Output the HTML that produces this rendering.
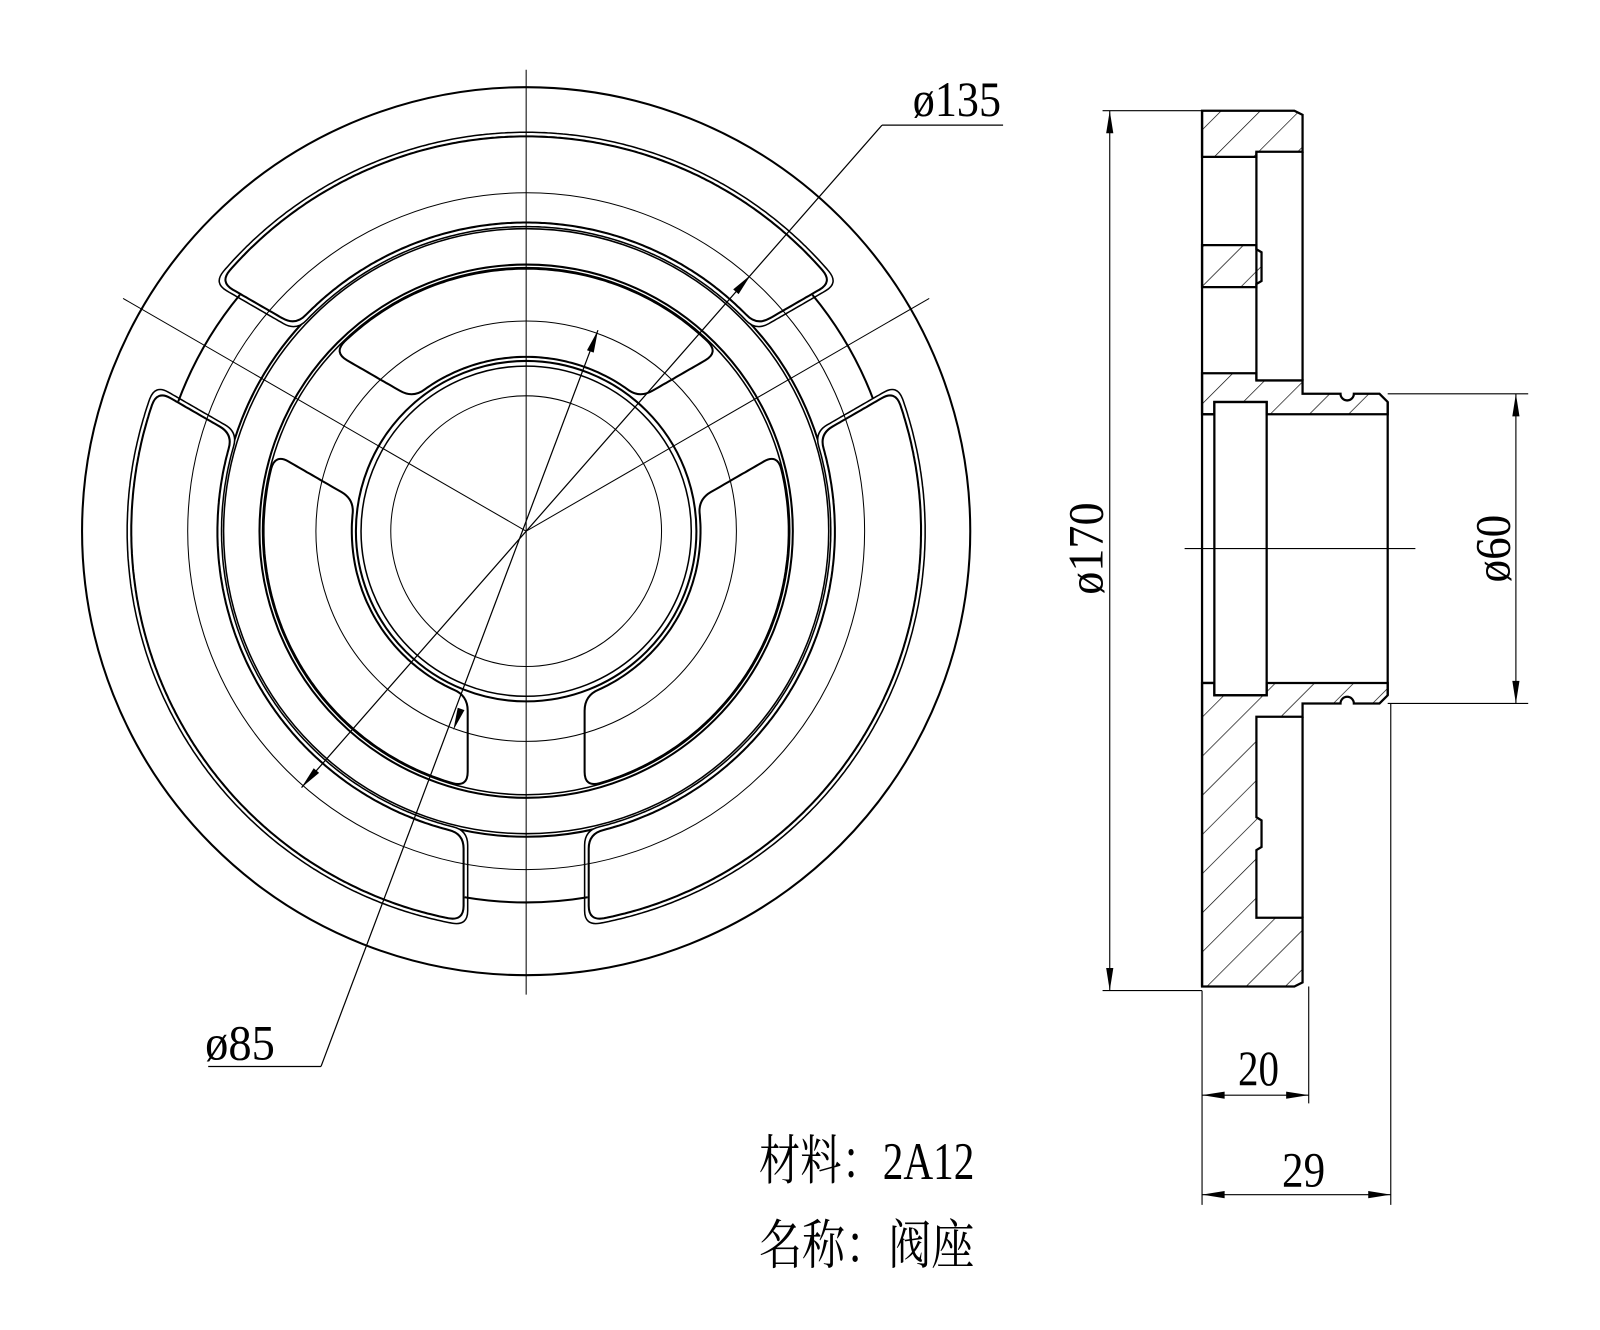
<!DOCTYPE html>
<html><head><meta charset="utf-8"><style>
html,body{margin:0;padding:0;background:#fff;}
svg{display:block}
text{font-family:"Liberation Serif","Noto Serif CJK SC",serif;fill:#000}
</style></head><body>
<svg id="s" width="1600" height="1330" viewBox="0 0 1560 1297" preserveAspectRatio="none" xmlns="http://www.w3.org/2000/svg">
<defs>
<pattern id="h" patternUnits="userSpaceOnUse" width="27" height="27" patternTransform="rotate(45)">
<line x1="0" y1="0" x2="0" y2="27" stroke="#000" stroke-width="1.3"/>
</pattern>
</defs>
<g id="front" fill="none" stroke="#000">
<circle cx="513" cy="518" r="433" stroke-width="2"/>
<circle cx="513" cy="518" r="298" stroke-width="2"/>
<circle cx="513" cy="518" r="295" stroke-width="1.5"/>
<circle cx="513" cy="518" r="260" stroke-width="2"/>
<circle cx="513" cy="518" r="257" stroke-width="1.5"/>
<circle cx="513" cy="518" r="166" stroke-width="2"/>
<circle cx="513" cy="518" r="161" stroke-width="1.5"/>
<circle cx="513" cy="518" r="132" stroke-width="1"/>
<line x1="860" y1="122" x2="978" y2="122" stroke-width="1.2"/>
<line x1="313" y1="1040" x2="203" y2="1040" stroke-width="1.2"/>
</g>
<text x="890" y="113" font-size="48" textLength="86" lengthAdjust="spacingAndGlyphs">ø135</text>
<text x="200" y="1033" font-size="48" textLength="68" lengthAdjust="spacingAndGlyphs">ø85</text>

<g fill="url(#h)" stroke="#000" stroke-width="2.2" stroke-linejoin="miter">
<path d="M1172,108 L1262,108 L1270,112 L1270,148 L1225,148 L1225,153 L1172,153 Z"/>
<path d="M1172,239 L1225,239 L1225,243 L1230,246 L1230,274 L1225,277 L1225,280 L1172,280 Z"/>
<path d="M1172,364 L1225,364 L1225,371 L1270,371 L1270,384 L1307,384 A6.5,6.5 0 0 0 1320,384 L1345,384 L1353,392 L1353,404 L1235,404 L1235,392 L1184,392 L1184,404 L1172,404 Z"/>
<path d="M1172,666 L1184,666 L1184,678 L1235,678 L1235,666 L1353,666 L1353,678 L1345,686 L1320,686 A6.5,6.5 0 0 0 1307,686 L1270,686 L1270,699 L1225,699 L1225,797 L1230,800 L1230,826 L1225,829 L1225,895 L1270,895 L1270,958 L1262,962 L1172,962 Z"/>
</g>
<g fill="none" stroke="#000" stroke-width="2.2">
<line x1="1172" y1="108" x2="1172" y2="962"/>
<line x1="1225" y1="148" x2="1225" y2="371"/>
<line x1="1270" y1="148" x2="1270" y2="371"/>
<rect x="1184" y="392" width="51" height="286"/>
<line x1="1172" y1="404" x2="1184" y2="404"/>
<line x1="1172" y1="666" x2="1184" y2="666"/>
<line x1="1353" y1="392" x2="1353" y2="678"/>
<line x1="1270" y1="699" x2="1270" y2="895"/>
</g>
<g fill="none" stroke="#000" stroke-width="1.1">
<line x1="1155" y1="535" x2="1380" y2="535"/>
<line x1="1075" y1="108" x2="1172" y2="108"/>
<line x1="1075" y1="966" x2="1172" y2="966"/>
<line x1="1082" y1="108" x2="1082" y2="966"/>
<line x1="1353" y1="384" x2="1490" y2="384"/>
<line x1="1353" y1="686" x2="1490" y2="686"/>
<line x1="1478" y1="384" x2="1478" y2="686"/>
<line x1="1172" y1="966" x2="1172" y2="1175"/>
<line x1="1276" y1="962" x2="1276" y2="1076"/>
<line x1="1356" y1="686" x2="1356" y2="1175"/>
<line x1="1172" y1="1068" x2="1276" y2="1068"/>
<line x1="1172" y1="1165" x2="1356" y2="1165"/>
</g>
<text transform="translate(1075,535) rotate(-90)" x="-45" y="0" font-size="48" textLength="90" lengthAdjust="spacingAndGlyphs">ø170</text>
<text transform="translate(1472,535) rotate(-90)" x="-33" y="0" font-size="48" textLength="66" lengthAdjust="spacingAndGlyphs">ø60</text>
<text x="1207" y="1058" font-size="48" textLength="40" lengthAdjust="spacingAndGlyphs">20</text>
<text x="1250" y="1157" font-size="48" textLength="42" lengthAdjust="spacingAndGlyphs">29</text>
<text x="740" y="1150" font-size="52" textLength="210" lengthAdjust="spacingAndGlyphs">材料：2A12</text>
<text x="740" y="1232" font-size="52" textLength="210" lengthAdjust="spacingAndGlyphs">名称：阀座</text>
</svg>
<script>
(function(){
var s=document.getElementById('s'),NS='http://www.w3.org/2000/svg',cx=513,cy=518;
function el(t,a){var e=document.createElementNS(NS,t);for(var k in a)e.setAttribute(k,a[k]);s.appendChild(e);return e;}
function P(r,h,th){var a=th*Math.PI/180,sv=Math.sqrt(r*r-h*h);
 return [cx+sv*Math.cos(a)-h*Math.sin(a), cy-(sv*Math.sin(a)+h*Math.cos(a))];}
function ang(p){return Math.atan2(cy-p[1],p[0]-cx);}
function arcPts(r,a0,a1,pts){var n=Math.max(2,Math.ceil(Math.abs(a1-a0)*r/3));for(var i=1;i<n;i++){var a=a0+(a1-a0)*i/n;pts.push([cx+r*Math.cos(a),cy-r*Math.sin(a)]);}}
function linePts(A,B,pts){var d=Math.hypot(B[0]-A[0],B[1]-A[1]),n=Math.max(2,Math.ceil(d/3));for(var i=1;i<n;i++)pts.push([A[0]+(B[0]-A[0])*i/n,A[1]+(B[1]-A[1])*i/n]);}
function slot(ta,R1,R2,h,sw,rad){var tb=ta+120;
 var A1=P(R1,h,ta),A2=P(R2,h,ta),B2=P(R2,-h,tb),B1=P(R1,-h,tb);
 var pts=[],c=[];
 c.push(pts.length);pts.push(A1);linePts(A1,A2,pts);
 c.push(pts.length);pts.push(A2);var a0=ang(A2),a1=ang(B2);while(a1<a0)a1+=2*Math.PI;arcPts(R2,a0,a1,pts);
 c.push(pts.length);pts.push(B2);linePts(B2,B1,pts);
 c.push(pts.length);pts.push(B1);a0=ang(B1);a1=ang(A1);while(a1>a0)a1-=2*Math.PI;arcPts(R1,a0,a1,pts);
 var N=pts.length,k=rad,skip={};c.forEach(function(i){for(var j=-k+1;j<=k-1;j++)skip[(i+j+N)%N]=1;});
 var d='',first=true,cs={};c.forEach(function(i){cs[i]=1;});
 for(var i=0;i<N;i++){
  if(cs[i]){var p0=pts[(i-k+N)%N],p2=pts[(i+k)%N],p=pts[i];
   d+=(first?'M':'L')+p0[0].toFixed(1)+','+p0[1].toFixed(1)+' Q'+p[0].toFixed(1)+','+p[1].toFixed(1)+' '+p2[0].toFixed(1)+','+p2[1].toFixed(1)+' ';first=false;continue;}
  if(skip[i])continue;
  d+=(first?'M':'L')+pts[i][0].toFixed(1)+','+pts[i][1].toFixed(1)+' ';first=false;}
 d+='Z';
 el('path',{d:d,fill:'#fff',stroke:'#000','stroke-width':sw,'stroke-linejoin':'round'});}
function arc(ta,r,h){var A=P(r,-h,ta),B=P(r,h,ta);
 el('path',{d:'M'+A[0]+','+A[1]+' A'+r+','+r+' 0 0 0 '+B[0]+','+B[1],fill:'none',stroke:'#000','stroke-width':2});}
[30,150,270].forEach(function(t){
 slot(t,297,389,57,1.5,5); slot(t,301,385,61,2,5);
 slot(t,170,256,57,2,5);
 arc(t,362,60);
});
[330,205].forEach(function(r){el('circle',{cx:cx,cy:cy,r:r,fill:'none',stroke:'#000','stroke-width':1});});
function ln(x1,y1,x2,y2,w){el('line',{x1:x1,y1:y1,x2:x2,y2:y2,stroke:'#000','stroke-width':w});}
ln(513,68,513,970,1);ln(513,518,120,291,1);ln(513,518,906,291,1);
ln(294,768,860,122,1.2);ln(583,322,313,1040,1.2);
function arrow(x,y,dx,dy){var L=Math.hypot(dx,dy);dx/=L;dy/=L;var l=22,w=3.5;
 var bx=x-dx*l,by=y-dy*l;
 el('path',{d:'M'+x+','+y+' L'+(bx-dy*w)+','+(by+dx*w)+' L'+(bx+dy*w)+','+(by-dx*w)+' Z',fill:'#000'});}
arrow(732,268,219,-250);arrow(294,768,-219,250);
arrow(583,322,70,-196);arrow(442,712,-71,194);
arrow(1082,108,0,-1);arrow(1082,966,0,1);
arrow(1478,384,0,-1);arrow(1478,686,0,1);
arrow(1172,1068,-1,0);arrow(1276,1068,1,0);
arrow(1172,1165,-1,0);arrow(1356,1165,1,0);
})();
</script>
</body></html>
